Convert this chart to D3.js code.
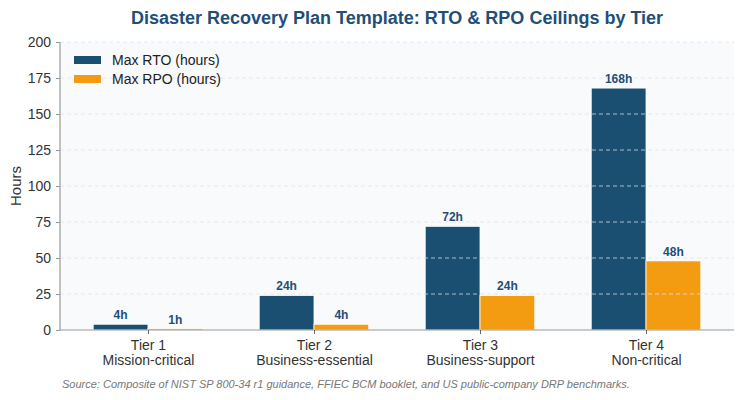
<!DOCTYPE html>
<html>
<head>
<meta charset="utf-8">
<script src="https://cdn.jsdelivr.net/npm/d3@7"></script>
<style>
  body { margin: 0; background: #fff; }
  svg { font-family: Arial, "Liberation Sans", sans-serif; }
</style>
</head>
<body>
<svg id="chart" width="744" height="400"></svg>
<script>
const tiers = ['Tier 1', 'Tier 2', 'Tier 3', 'Tier 4'];
const tierNames = ['Mission-critical', 'Business-essential', 'Business-support', 'Non-critical'];
const rtoHours = [4, 24, 72, 168];
const rpoHours = [1, 4, 24, 48];
const yTicks = [0, 25, 50, 75, 100, 125, 150, 175, 200];

const colRTO = '#1b4f72', colRPO = '#f39c12', colText = '#1f4e79';
const plotL = 60, plotR = 734, plotT = 42, plotB = 330;

const svg = d3.select('#chart');

let x = d3.scalePoint().domain(tiers).range([plotL, plotR]).padding(0.53);
let y = d3.scaleLinear().domain([0, 200]).range([plotB, plotT]);
const barW = x.step() * 0.33;

svg.append('rect')
  .attr('x', plotL).attr('y', plotT)
  .attr('width', plotR - plotL).attr('height', plotB - plotT)
  .attr('fill', '#f8fafc');

// bars
const series = [
  { name: 'Max RTO (hours)', values: rtoHours, color: colRTO, off: -barW },
  { name: 'Max RPO (hours)', values: rpoHours, color: colRPO, off: 0 }
];

series.forEach(s => {
  svg.append('g').selectAll('rect')
    .data(s.values)
    .enter()
    .append('rect')
    .attr('x', (d, i) => x(tiers[i]) + s.off)
    .attr('y', d => y(d))
    .attr('width', barW)
    .attr('height', d => y(0) - y(d))
    .attr('fill', s.color)
    .attr('stroke', '#fff')
    .attr('stroke-width', 0.8);
});

// grid drawn over bars
svg.append('g')
  .selectAll('line')
  .data(yTicks.filter(d => d > 0))
  .enter()
  .append('line')
  .attr('x1', plotL).attr('x2', plotR)
  .attr('y1', d => y(d)).attr('y2', d => y(d))
  .attr('stroke', '#dde3ea')
  .attr('stroke-opacity', 0.75)
  .attr('stroke-dasharray', '4,3');

// value labels
series.forEach(s => {
  svg.append('g').selectAll('text')
    .data(s.values)
    .enter()
    .append('text')
    .attr('x', (d, i) => x(tiers[i]) + s.off + barW / 2)
    .attr('y', d => y(d) - 5)
    .attr('text-anchor', 'middle')
    .attr('font-size', 12)
    .attr('font-weight', 'bold')
    .attr('fill', colText)
    .text(d => d + 'h');
});

// axes
let yAxis = d3.axisLeft(y).tickValues(yTicks).tickSize(4).tickPadding(5);
let gy = svg.append('g').attr('transform', `translate(${plotL},0)`).call(yAxis);
gy.selectAll('text').attr('font-size', 14).attr('fill', '#333');
gy.selectAll('line').attr('stroke', '#999');
gy.select('.domain').attr('stroke', '#999').attr('stroke-width', 1.2).attr('d', `M0,${plotB}V${plotT}`);

let xAxis = d3.axisBottom(x).tickSize(4).tickFormat('');
let gx = svg.append('g').attr('transform', `translate(0,${plotB})`).call(xAxis);
gx.selectAll('line').attr('stroke', '#666');
gx.select('.domain').attr('stroke', '#999').attr('stroke-width', 1.2).attr('d', `M${plotL},0H${plotR}`);

gx.selectAll('.tick').append('text')
  .attr('text-anchor', 'middle')
  .attr('fill', '#333')
  .attr('font-size', 14)
  .each(function (d, i) {
    d3.select(this).append('tspan').attr('x', 0).attr('y', 20).text(d);
    d3.select(this).append('tspan').attr('x', 0).attr('y', 35).text(tierNames[i]);
  });

// y label
svg.append('text')
  .attr('transform', `translate(21,${(plotT + plotB) / 2}) rotate(-90)`)
  .attr('text-anchor', 'middle')
  .attr('font-size', 15)
  .attr('fill', '#333')
  .text('Hours');

// title
svg.append('text')
  .attr('x', (plotL + plotR) / 2).attr('y', 24)
  .attr('text-anchor', 'middle')
  .attr('font-size', 18)
  .attr('font-weight', 'bold')
  .attr('fill', colText)
  .text('Disaster Recovery Plan Template: RTO & RPO Ceilings by Tier');

// legend
let lg = svg.append('g').selectAll('g')
  .data(series)
  .enter()
  .append('g')
  .attr('transform', (d, i) => `translate(74,${56 + i * 19})`);
lg.append('rect').attr('width', 27).attr('height', 8).attr('fill', d => d.color);
lg.append('text').attr('x', 38).attr('y', 9).attr('font-size', 14).attr('fill', '#222').text(d => d.name);

// source
svg.append('text')
  .attr('x', 62).attr('y', 388)
  .attr('font-size', 11)
  .attr('font-style', 'italic')
  .attr('fill', '#777')
  .text('Source: Composite of NIST SP 800-34 r1 guidance, FFIEC BCM booklet, and US public-company DRP benchmarks.');
</script>
</body>
</html>
